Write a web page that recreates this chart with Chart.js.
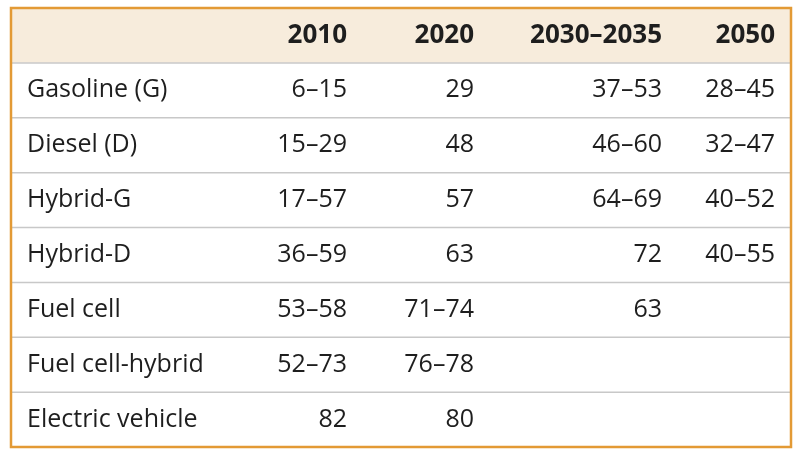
<!DOCTYPE html>
<html><head><meta charset="utf-8">
<script src="https://cdn.jsdelivr.net/npm/chart.js@4"></script>
<style>html,body{margin:0;padding:0;background:#fff}#c{display:block}</style>
</head><body>
<div style="width:800px;height:459px"><canvas id="c"></canvas></div>
<script>
const columns = ["2010", "2020", "2030\u20132035", "2050"];
const categories = ["Gasoline (G)", "Diesel (D)", "Hybrid-G", "Hybrid-D", "Fuel cell", "Fuel cell-hybrid", "Electric vehicle"];
const v2010 = ["6\u201315", "15\u201329", "17\u201357", "36\u201359", "53\u201358", "52\u201373", "82"];
const v2020 = ["29", "48", "57", "63", "71\u201374", "76\u201378", "80"];
const v2030 = ["37\u201353", "46\u201360", "64\u201369", "72", "63", "", ""];
const v2050 = ["28\u201345", "32\u201347", "40\u201352", "40\u201355", "", "", ""];

const colRight = [347, 474, 662, 775];
const series = [v2010, v2020, v2030, v2050];
const font = '"Open Sans", "Noto Sans", sans-serif';

const tablePlugin = {
  id: 'table',
  afterDraw(chart) {
    const ctx = chart.ctx, a = chart.chartArea, y = chart.scales.y, x = chart.scales.x;
    const top = y.getPixelForValue(-0.5), hb = y.getPixelForValue(0.5);
    ctx.save();
    ctx.fillStyle = '#f7ecdc';
    ctx.fillRect(a.left, top, a.right - a.left, hb - top);
    ctx.strokeStyle = '#c8c8c8'; ctx.lineWidth = 1.5;
    for (let i = 0; i < categories.length; i++) {
      const py = y.getPixelForValue(i + 0.5);
      ctx.beginPath(); ctx.moveTo(a.left, py); ctx.lineTo(a.right, py); ctx.stroke();
    }
    ctx.textBaseline = 'middle';
    ctx.fillStyle = '#1e1e1e';
    ctx.font = 'bold 26px ' + font;
    ctx.textAlign = 'right';
    columns.forEach((c, j) => ctx.fillText(c, x.getPixelForValue(colRight[j]), y.getPixelForValue(0)));
    ctx.font = '25px ' + font;
    categories.forEach((cat, i) => {
      const py = y.getPixelForValue(i + 1);
      ctx.textAlign = 'left';
      ctx.fillText(cat, x.getPixelForValue(27), py);
      ctx.textAlign = 'right';
      series.forEach((s, j) => { if (s[i]) ctx.fillText(s[i], x.getPixelForValue(colRight[j]), py); });
    });
    ctx.strokeStyle = '#e39a35'; ctx.lineWidth = 2.5;
    ctx.strokeRect(a.left, top, a.right - a.left, y.getPixelForValue(categories.length + 0.5) - top);
    ctx.restore();
  }
};

new Chart(document.getElementById('c'), {
  type: 'scatter',
  data: { datasets: [{ data: [] }] },
  options: {
    responsive: true, maintainAspectRatio: false, animation: false,
    layout: { padding: { left: 11, right: 9, top: 8, bottom: 12 } },
    plugins: { legend: { display: false }, tooltip: { enabled: false } },
    scales: {
      x: { type: 'linear', display: false, min: 11, max: 791 },
      y: { type: 'linear', display: false, reverse: true, min: -0.5, max: categories.length + 0.5 }
    }
  },
  plugins: [tablePlugin]
});
</script>
</body></html>
